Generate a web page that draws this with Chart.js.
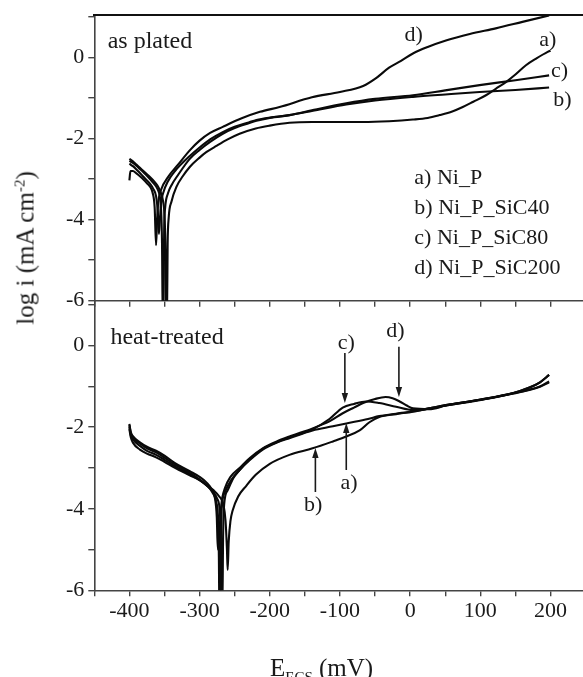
<!DOCTYPE html>
<html><head><meta charset="utf-8">
<script src="https://cdn.jsdelivr.net/npm/chart.js@4.4.0/dist/chart.umd.min.js"></script>
<style>
html,body{margin:0;padding:0;background:#fff;width:583px;height:677px;overflow:hidden;position:relative;font-family:'Liberation Serif','Times New Roman',serif;}
canvas{position:absolute;left:0;}
#c1{top:0;width:600px;height:312px;}
#c2{top:280px;width:600px;height:397px;}
.ttl{position:absolute;white-space:nowrap;font-size:25px;line-height:1;color:#1a1a1a;}
#ytitle{left:25px;top:248px;transform:translate(-50%,-50%) rotate(-90deg);}
#xtitle{left:270px;top:655px;}
sup,sub{font-size:15px;line-height:0;}
</style></head>
<body>
<canvas id="c1" width="600" height="312"></canvas>
<canvas id="c2" width="600" height="397"></canvas>
<div id="ytitle" class="ttl">log i (mA cm<sup>-2</sup>)</div>
<div id="xtitle" class="ttl">E<sub>ECS</sub> (mV)</div>
<script>
// ---------- AS PLATED (top panel) ----------
const apA_E = [-400,-395,-390,-385,-380,-375,-370,-365,-360,-356,-352,-350,-348.5,-347.5,-346.5,-345.5,-344,-340,-333,-324,-314,-300,-290,-276,-260,-243,-220,-200,-172,-140,-100,-67,-30,4,25,42,60,75,90,108,122,137,150,165,180,196,200];
const apA_L = [-2.50,-2.56,-2.64,-2.72,-2.80,-2.88,-2.96,-3.05,-3.16,-3.30,-3.55,-3.9,-4.8,-6.5,-6.5,-4.6,-3.95,-3.55,-3.19,-2.93,-2.70,-2.47,-2.33,-2.18,-2.02,-1.88,-1.75,-1.68,-1.61,-1.59,-1.59,-1.59,-1.57,-1.53,-1.49,-1.42,-1.33,-1.22,-1.09,-0.93,-0.77,-0.60,-0.42,-0.19,-0.02,0.14,0.17];

const apB_E = [-400,-395,-390,-385,-380,-375,-370,-365,-360,-357,-355,-353.5,-352.5,-351.5,-350.5,-349,-345,-340,-330,-314,-300,-285,-267,-250,-230,-219,-200,-172,-140,-91,-50,4,50,99,150,198];
const apB_L = [-2.55,-2.60,-2.67,-2.75,-2.83,-2.92,-3.01,-3.11,-3.24,-3.40,-3.7,-4.6,-6.5,-6.5,-4.3,-3.7,-3.35,-3.15,-2.88,-2.50,-2.28,-2.08,-1.88,-1.74,-1.62,-1.56,-1.49,-1.42,-1.32,-1.16,-1.06,-0.97,-0.91,-0.85,-0.80,-0.74];

const apC_E = [-400,-395,-390,-385,-380,-375,-370,-366,-362,-359.5,-358,-356.5,-355,-352,-345,-335,-314,-300,-285,-267,-250,-230,-219,-200,-172,-140,-91,-50,4,50,99,150,198];
const apC_L = [-2.62,-2.68,-2.76,-2.85,-2.94,-3.03,-3.13,-3.24,-3.42,-3.8,-4.35,-4.0,-3.6,-3.35,-3.05,-2.80,-2.43,-2.22,-2.02,-1.84,-1.71,-1.60,-1.54,-1.48,-1.42,-1.30,-1.13,-1.02,-0.93,-0.81,-0.68,-0.56,-0.44];

const apD_E = [-400,-398.5,-395,-390,-385,-380,-375,-370,-367,-364,-362,-360.5,-359,-355,-345,-331,-314,-300,-285,-267,-240,-214,-186,-140,-100,-67,-48,-30,-13,4,25,51,85,122,160,198];
const apD_L = [-3.03,-2.80,-2.80,-2.86,-2.93,-3.01,-3.10,-3.20,-3.33,-3.7,-4.63,-4.0,-3.6,-3.27,-2.95,-2.65,-2.29,-2.05,-1.86,-1.71,-1.50,-1.34,-1.22,-0.98,-0.85,-0.70,-0.50,-0.25,-0.08,0.10,0.26,0.42,0.58,0.72,0.88,1.04];

// ---------- HEAT TREATED (bottom panel) ----------
const htA_E = [-400,-398,-395,-385,-375,-362,-350,-335,-314,-300,-290,-281,-276,-273.5,-272.5,-271.8,-271,-270,-268.5,-264,-255,-243,-228,-210,-190,-172,-139,-110,-91,-60,-44,-20,4,27,51,99,146,170,185,198];
const htA_L = [-1.95,-2.15,-2.25,-2.40,-2.52,-2.62,-2.75,-2.92,-3.12,-3.28,-3.42,-3.62,-3.85,-4.3,-5.2,-6.5,-6.5,-5.0,-4.0,-3.6,-3.3,-3.05,-2.80,-2.55,-2.38,-2.27,-2.08,-1.98,-1.91,-1.80,-1.73,-1.67,-1.61,-1.54,-1.46,-1.33,-1.17,-1.03,-0.90,-0.72];

const htB_E = [-400,-398,-395,-385,-375,-362,-350,-335,-314,-300,-290,-280,-272,-266,-263,-261,-260,-258.5,-256,-253,-245,-234,-220,-200,-172,-139,-110,-91,-72,-58,-44,-20,4,27,51,99,146,170,185,198];
const htB_L = [-2.05,-2.25,-2.38,-2.55,-2.65,-2.74,-2.85,-3.00,-3.18,-3.30,-3.42,-3.55,-3.70,-3.9,-4.3,-5.0,-5.5,-4.8,-4.3,-4.05,-3.70,-3.45,-3.17,-2.90,-2.68,-2.52,-2.35,-2.23,-2.08,-1.88,-1.75,-1.68,-1.62,-1.54,-1.46,-1.33,-1.17,-1.08,-1.00,-0.88];

const htC_E = [-400,-398,-395,-385,-375,-362,-350,-335,-314,-300,-290,-281,-275,-271,-269.5,-268.5,-267.5,-266.5,-265,-260,-252,-243,-228,-210,-190,-172,-139,-115,-96,-80,-63,-44,-20,4,27,51,99,146,170,185,198];
const htC_L = [-2.00,-2.20,-2.30,-2.46,-2.58,-2.68,-2.80,-2.96,-3.16,-3.30,-3.43,-3.58,-3.75,-4.1,-4.9,-6.5,-6.5,-4.7,-3.9,-3.55,-3.25,-3.05,-2.78,-2.53,-2.37,-2.25,-2.05,-1.80,-1.52,-1.43,-1.37,-1.41,-1.50,-1.58,-1.55,-1.47,-1.34,-1.18,-1.09,-1.01,-0.90];

const htD_E = [-400,-398,-395,-385,-375,-362,-350,-335,-314,-300,-290,-283,-278,-275.5,-274,-273,-272,-271,-269,-264,-256,-243,-228,-210,-190,-172,-139,-115,-96,-80,-67,-50,-35,-25,-15,-5,4,27,51,99,146,170,185,198];
const htD_L = [-1.92,-2.12,-2.22,-2.37,-2.48,-2.58,-2.70,-2.88,-3.08,-3.22,-3.36,-3.52,-3.75,-4.2,-5.0,-5.0,-4.8,-4.4,-3.9,-3.5,-3.22,-3.00,-2.75,-2.52,-2.35,-2.23,-2.03,-1.86,-1.66,-1.52,-1.41,-1.31,-1.26,-1.29,-1.37,-1.47,-1.54,-1.56,-1.47,-1.33,-1.17,-1.03,-0.90,-0.72];

// ---------- axes / tick labels ----------
const xMin = -450, xMax = 250, xStep = 50;
const xLabelled = [-400,-300,-200,-100,0,100,200];
const yMin = -6, apYMax = 1.05, htYMax = 1.1;
const yLabelled = [0,-2,-4,-6];

// ---------- annotations ----------
const apPanelTitle = 'as plated', htPanelTitle = 'heat-treated';
const apTags = ['d)','a)','c)','b)'];
const apTagE = [5,196,213,217];
const apTagV = [0.55,0.43,-0.34,-1.05];
const legendTexts = ['a) Ni_P','b) Ni_P_SiC40','c) Ni_P_SiC80','d) Ni_P_SiC200'];
const legendE = 6;
const legendV = [-2.98,-3.72,-4.46,-5.2];
const htTags = ['c)','d)','a)','b)'];
const htTagE = [-91,-21,-87,-138];
const htTagV = [0.05,0.36,-3.37,-3.91];
const htArrowE = [-93,-16,-91,-135];
const htArrowFrom = [-0.18,-0.03,-3.05,-3.59];
const htArrowTo = [-1.41,-1.26,-1.90,-2.51];

const FONT = "'Liberation Serif','Times New Roman',serif";
const INK = '#1a1a1a';
const AXIS = '#444';

function pts(E, L){ return E.map((e,i)=>({x:e, y:L[i]})); }
function ds(E, L){ return {data: pts(E,L), borderColor:'#0a0a0a', borderWidth:2.1, pointRadius:0, fill:false, cubicInterpolationMode:'monotone'}; }

const notesPlugin = {
  id:'notes',
  afterDatasetsDraw(chart, args, o){
    const ctx = chart.ctx, x = chart.scales.x, y = chart.scales.y;
    ctx.save();
    ctx.fillStyle = INK; ctx.strokeStyle = INK;
    (o.texts||[]).forEach(t=>{
      ctx.font = t.size + 'px ' + FONT;
      ctx.textAlign = t.align; ctx.textBaseline = t.base;
      ctx.fillText(t.text, x.getPixelForValue(t.e), y.getPixelForValue(t.v));
    });
    (o.arrows||[]).forEach(a=>{
      const px = x.getPixelForValue(a.e), p0 = y.getPixelForValue(a.from), p1 = y.getPixelForValue(a.to);
      const dir = Math.sign(p1-p0);
      ctx.lineWidth = 1.6;
      ctx.beginPath(); ctx.moveTo(px,p0); ctx.lineTo(px,p1-dir*6); ctx.stroke();
      ctx.beginPath(); ctx.moveTo(px,p1); ctx.lineTo(px-3.2,p1-dir*10); ctx.lineTo(px+3.2,p1-dir*10); ctx.closePath(); ctx.fill();
    });
    ctx.restore();
  }
};

function makeChart(id, datasets, yMax, showXLabels, xAxisH, padTop, texts, arrows, withTopBorder){
  const scales = {
    x:{type:'linear', min:xMin, max:xMax,
      ticks:{display:showXLabels, stepSize:xStep, maxTicksLimit:100, autoSkip:false, maxRotation:0, minRotation:0,
        color:INK, font:{family:FONT, size:22}, padding:2,
        callback:(v)=> xLabelled.includes(v) ? String(v) : ''},
      grid:{drawOnChartArea:false, drawTicks:true, tickLength:6, color:AXIS, tickColor:AXIS, lineWidth:1.4},
      border:{display:true, color:AXIS, width:1.6},
      afterFit(s){ s.height = xAxisH; s.paddingLeft = 0; s.paddingRight = 0; }
    },
    y:{type:'linear', min:yMin, max:yMax,
      ticks:{stepSize:1, includeBounds:false, maxTicksLimit:100, color:INK, font:{family:FONT, size:22}, padding:4,
        callback:(v)=> yLabelled.includes(v) ? String(v) : ''},
      grid:{drawOnChartArea:false, drawTicks:true, tickLength:6, color:AXIS, tickColor:AXIS, lineWidth:1.4},
      border:{display:true, color:AXIS, width:1.6},
      afterFit(s){ s.width = 94.3; s.paddingTop = 0; s.paddingBottom = 0; }
    }
  };
  if (withTopBorder){
    scales.xTop = {type:'linear', position:'top', min:xMin, max:xMax,
      ticks:{display:false}, grid:{display:false},
      border:{display:true, color:'#111', width:2},
      afterFit(s){ s.height = 0; s.paddingLeft = 0; s.paddingRight = 0; }
    };
  }
  return new Chart(document.getElementById(id), {
    type:'line',
    data:{datasets},
    options:{
      responsive:false, animation:false, devicePixelRatio:1, events:[],
      layout:{padding:{top:padTop, right:14.4, left:0, bottom:0}},
      plugins:{legend:{display:false}, tooltip:{enabled:false}, notes:{texts, arrows}},
      scales
    },
    plugins:[notesPlugin]
  });
}

const apTexts = [{text:apPanelTitle, e:-431, v:0.24, size:24, align:'left', base:'alphabetic'}];
apTags.forEach((t,i)=>apTexts.push({text:t, e:apTagE[i], v:apTagV[i], size:22, align:'center', base:'middle'}));
legendTexts.forEach((t,i)=>apTexts.push({text:t, e:legendE, v:legendV[i], size:22, align:'left', base:'middle'}));

const htTexts = [{text:htPanelTitle, e:-427, v:0.04, size:24, align:'left', base:'alphabetic'}];
htTags.forEach((t,i)=>htTexts.push({text:t, e:htTagE[i], v:htTagV[i], size:22, align:'center', base:'middle'}));
const htArrows = htArrowE.map((e,i)=>({e, from:htArrowFrom[i], to:htArrowTo[i]}));

makeChart('c1', [ds(apA_E,apA_L), ds(apB_E,apB_L), ds(apC_E,apC_L), ds(apD_E,apD_L)], apYMax, false, 11.3, 15, apTexts, [], true);
makeChart('c2', [ds(htA_E,htA_L), ds(htB_E,htB_L), ds(htC_E,htC_L), ds(htD_E,htD_L)], htYMax, true, 86.7, 20.7, htTexts, htArrows, false);
</script>
</body></html>
